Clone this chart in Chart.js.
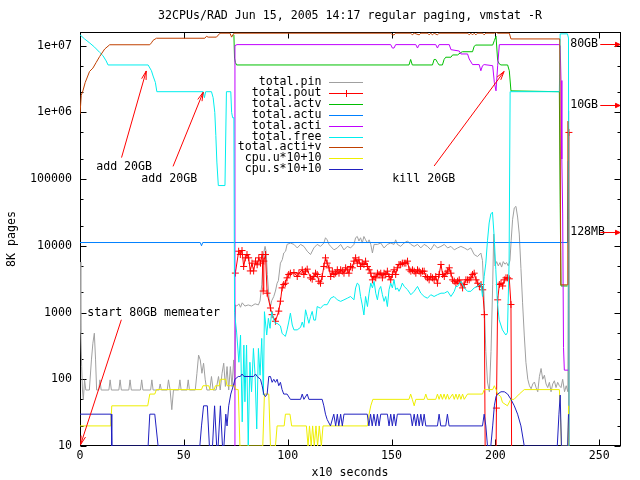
<!DOCTYPE html>
<html><head><meta charset="utf-8">
<script src="https://cdn.jsdelivr.net/npm/chart.js@4.4.0/dist/chart.umd.min.js"></script>
<style>html,body{margin:0;padding:0;background:#fff;}canvas{display:block;}</style>
</head><body>
<canvas id="c" width="640" height="480"></canvas>
<script>
const chartTitle = '32CPUs/RAD Jun 15, 2005 14:17 regular paging, vmstat -R';
const xTitle = 'x10 seconds';
const yTitle = '8K pages';
const xTickValues = [0, 50, 100, 150, 200, 250];
const yTickValues = [10, 100, 1000, 10000, 100000, 1000000, 10000000];
const yTickLabels = ['10', '100', '1000', '10000', '100000', '1e+06', '1e+07'];
const yMinorTicks = [20, 50, 200, 500, 2000, 5000, 20000, 50000, 200000, 500000, 2e6, 5e6];
const seriesNames = ['total.pin', 'total.pout', 'total.actv', 'total.actu', 'total.acti', 'total.free', 'total.acti+v', 'cpu.u*10+10', 'cpu.s*10+10'];
const seriesColors = ['#a0a0a0', '#ff0000', '#00c000', '#0080ff', '#c000ff', '#00eeee', '#c04000', '#eeee00', '#2020c0'];

const totalPin = [[0,5700],[0.4,500],[0.8,155],[1.2,69],[1.6,49],[2.2,98],[2.8,69],[4.5,69],[5.5,195],[6.2,347],[6.9,490],[7.5,195],[8,69],[9,69],[9.6,98],[10.2,69],[13.9,69],[14.5,98],[15.1,69],[18.7,69],[19.3,98],[19.9,69],[23.5,69],[24.1,98],[24.7,69],[29.1,69],[29.7,98],[30.3,69],[34,69],[34.6,98],[35.2,69],[38,69],[38.6,85],[39.2,69],[42,69],[42.6,98],[43.4,69],[44.2,35],[45,69],[47.5,69],[48.1,98],[48.7,69],[51.5,69],[52.1,98],[52.7,69],[55.5,69],[56.3,123],[57.1,230],[57.9,195],[58.7,123],[59.5,174],[60.3,98],[61.1,69],[62.5,69],[63.3,110],[64.1,69],[65.5,69],[66.7,110],[67.5,69],[68.4,123],[69.2,174],[70,78],[70.8,155],[71.6,69],[72.4,155],[73.2,78],[74,195],[74.6,69],[74.9,1300],[75.5,1250],[76.5,1350],[77.3,1200],[78.1,1400],[79.4,1250],[81,1300],[82.6,1250],[84.3,1350],[85.9,1300],[86.7,1500],[87.5,2600],[88.3,7400],[89.1,9800],[89.6,8300],[90.2,3700],[91,1640],[91.7,1230],[92.3,1500],[93.3,1740],[94.1,2100],[94.9,2750],[95.5,3000],[96.5,5500],[97.4,6200],[98.1,7800],[99,8300],[99.7,10500],[101.3,11000],[103,10500],[104.6,9300],[106.2,10500],[107.8,9800],[109.4,8300],[111,7400],[112.6,9300],[114.2,10500],[115.8,9800],[117.4,11000],[118.2,13200],[119,12300],[119.9,10500],[120.7,9800],[122.3,8700],[123.9,9300],[125.5,10500],[127.1,8700],[128.7,9800],[130.3,9300],[131.9,10500],[132.7,13200],[133.5,13800],[134.3,11800],[135.1,13200],[135.9,11000],[136.7,13800],[137.5,12300],[138.4,11000],[139.2,12300],[140,10500],[140.8,7800],[141.6,10500],[143.2,10500],[144.8,11000],[146.4,9300],[148,10500],[149.6,11000],[151.2,10500],[152,12300],[152.8,10500],[154.4,9800],[156,11000],[157.7,11800],[159.3,10500],[160.9,9800],[162.5,10500],[164.1,9300],[165.7,10500],[167.3,9800],[168.9,8700],[170.5,10500],[172.1,9300],[173.8,9800],[175.4,10500],[177,9300],[178.6,9800],[180.2,8700],[181.8,9300],[183.4,9800],[185,9300],[186.6,8700],[188.2,9300],[189.8,7400],[191.4,6900],[193,7800],[193.8,6000],[194.6,1500],[195.4,260],[196.2,91],[197.1,65],[197.9,260],[198.7,2600],[199.2,15000],[199.8,5000],[200.6,5800],[201.4,5000],[202.2,5600],[203,4800],[203.8,5800],[204.6,5300],[205.4,5600],[206.2,5000],[207,6000],[207.6,12000],[208.3,25000],[209.1,37000],[209.9,39000],[210.7,27000],[211.5,15000],[212.3,4600],[213.1,1400],[213.9,460],[214.7,180],[215.6,100],[216.4,80],[217.2,72],[218,85],[218.8,91],[219.6,75],[220.4,65],[221.2,110],[222,145],[222.8,100],[223.6,115],[224.4,85],[225.2,75],[226,90],[226.8,65],[227.6,85],[228.4,95],[229.2,75],[230,90],[230.8,80],[231.6,75],[232.4,100],[233.3,65],[234.1,80],[234.9,65],[235.3,1050000]];

const totalPout = [[74.8,3900],[76.4,8300],[77.2,7400],[78.0,8500],[78.8,4900],[79.6,6600],[80.4,7400],[81.2,6600],[82.0,4200],[82.8,5500],[83.6,4200],[84.5,5900],[85.3,5200],[86.1,6600],[86.9,5500],[87.7,7400],[88.2,2100],[88.5,5900],[89.3,7400],[90.1,1950],[91.7,1170],[92.5,930],[94.1,740],[95.7,1050],[96.5,1480],[97.3,2340],[98.1,2630],[98.9,2750],[99.7,3310],[100.5,3720],[101.3,3890],[103.0,3980],[104.6,3470],[105.4,3890],[107.0,4370],[107.8,3720],[108.6,4170],[109.4,4470],[111.0,3310],[111.8,3160],[112.6,3470],[113.4,3890],[114.2,3720],[115.0,2950],[115.8,2750],[116.6,3470],[117.4,4900],[118.2,6600],[119.0,5500],[119.9,4680],[120.7,3470],[121.5,4170],[122.3,3720],[123.1,3890],[123.9,4370],[124.7,3890],[125.5,4370],[126.3,4170],[127.1,3890],[127.9,4680],[128.7,4370],[129.5,3890],[130.3,4900],[131.1,4680],[131.9,5890],[132.7,6600],[133.5,5500],[134.3,6170],[135.1,4900],[135.9,5500],[136.7,5250],[137.5,5890],[138.4,4900],[139.2,4370],[140.0,3890],[140.8,3090],[141.6,3470],[142.4,3310],[143.2,3890],[144.0,3720],[144.8,3890],[145.6,3310],[146.4,3890],[147.2,3720],[148.0,4170],[148.8,3470],[149.6,3090],[150.4,3720],[151.2,4370],[152.0,3720],[152.8,4680],[153.6,5250],[154.4,5250],[155.2,5500],[156.1,5500],[156.9,5500],[157.7,5890],[158.5,4370],[159.3,4170],[160.1,4370],[160.9,4170],[161.7,3890],[162.5,4370],[163.3,4170],[164.1,3890],[164.9,4170],[165.7,4170],[166.5,3470],[167.3,3310],[168.1,3090],[168.9,3470],[169.7,3310],[170.5,3090],[171.3,3470],[172.1,2750],[172.9,3720],[173.8,5250],[174.6,3720],[175.4,3470],[176.2,3890],[177.0,4170],[177.8,4680],[178.6,3890],[179.4,3090],[180.2,2950],[181.0,2750],[181.8,2950],[182.6,3090],[183.4,2750],[184.2,2340],[185.0,2630],[185.8,3090],[186.6,3090],[187.4,3090],[188.2,3310],[189.0,3720],[189.8,3890],[190.7,3090],[191.5,2750],[192.3,2450],[193.1,2630],[193.9,2190],[194.7,930],[195.2,2],[200.2,2],[200.5,37],[201.1,1550],[201.9,2630],[202.7,2750],[203.5,2500],[204.3,3090],[205.1,3310],[205.9,3310],[206.7,3200],[207.5,1320],[207.9,2],[235.0,2],[235.4,500000]];

const totalActv = [[74.1,1.45e7],[74.4,6.5e6],[74.8,5.6e6],[75.4,5.13e6],[158.4,5.13e6],[159.2,6.2e6],[160,5.13e6],[169.7,5.13e6],[170.5,6.2e6],[171.3,6.2e6],[172.1,5.6e6],[172.9,5.13e6],[174.5,5.13e6],[175.3,6.2e6],[176.1,6.7e6],[178.6,6.7e6],[179.4,7.25e6],[181.8,7.25e6],[183.4,7.9e6],[184.2,8.1e6],[189,8.1e6],[189.8,9.8e6],[190.6,1.02e7],[198.7,1.02e7],[199.5,1.19e7],[200.3,1.38e7],[201.1,5.96e6],[201.9,5.3e6],[202.7,5.13e6],[205.9,5.13e6],[206.7,4.2e6],[207.5,2.1e6],[230.8,2.04e6],[231.2,42000],[231.6,2500],[234.7,2500]];

const totalActu = [[0,11200],[57.9,11200],[58.5,10000],[59.1,11200],[234.6,11200],[234.8,24600],[235.1,186000]];

const totalActi = [[74.5,2],[74.6,1.0e7],[75.6,1.035e7],[149.6,1.035e7],[150.4,9.2e6],[151.2,9.2e6],[152,1.035e7],[161.7,1.035e7],[162.5,9.2e6],[163.3,1.035e7],[171.3,1.035e7],[172.1,9.2e6],[172.9,1.035e7],[177.8,1.035e7],[178.6,8.7e6],[182.6,8.3e6],[183.4,7.5e6],[186.6,7.5e6],[187.4,6.3e6],[189,5.2e6],[192.2,5.2e6],[193,4.2e6],[193.8,5.0e6],[194.6,5.2e6],[198.7,5.0e6],[199.5,2.8e6],[200.3,2.1e6],[201.1,5.0e6],[201.9,1.035e7],[230.6,1.035e7],[231.2,1.0e7],[231.6,3e6],[232,2e5],[232.4,3e4],[232.8,300],[233.2,137],[235.2,137]];

const totalFree = [[0,1.45e7],[2.2,1.26e7],[4.6,1.1e7],[7,9.5e6],[9.5,7.9e6],[11,7.1e6],[12.6,5.9e6],[13.5,5.13e6],[32.8,5.13e6],[34.4,4.2e6],[35.2,3.5e6],[36.3,2.8e6],[37,2.04e6],[59.3,2.04e6],[59.9,1.66e6],[60.5,2.04e6],[63.3,2.04e6],[64.1,1.66e6],[64.9,1.0e6],[65.4,4.5e5],[65.9,1.8e5],[66.6,8.0e4],[69.8,8.0e4],[70.5,2.04e6],[72.6,2.04e6],[73,1.0e6],[73.5,8.3e5],[74.1,8.3e5],[74.4,1000],[75.4,510],[76.5,180],[77.3,460],[78.1,23],[78.9,325],[79.4,46],[80.2,325],[81,10],[81.8,180],[82.6,65],[83.5,290],[84.3,115],[85.1,18],[85.9,290],[86.7,115],[87.5,410],[88.3,58],[88.8,1030],[89.9,460],[90.7,820],[91.5,580],[92.3,1030],[93.3,775],[94.1,690],[94.9,690],[96.5,630],[97.3,490],[98.1,460],[98.9,440],[99.7,550],[100.5,720],[101.3,980],[102.2,650],[103,550],[104.6,550],[106.2,600],[107,720],[107.8,600],[108.6,1100],[109.4,870],[110.2,690],[111,870],[111.8,1040],[112.6,770],[113.4,770],[114.2,1230],[115.8,1160],[117.4,1310],[119,1310],[120.7,1640],[122.3,1740],[123.9,1550],[125.5,1470],[127.1,1550],[128.7,1640],[130.3,1740],[131.9,1550],[132.7,2340],[133.5,2760],[134.3,2610],[135.1,1740],[135.9,1300],[136.7,920],[137.5,1740],[138.4,1230],[139.2,1950],[140,2760],[140.8,2340],[141.6,2930],[142.4,1950],[143.2,1550],[144,2200],[144.8,2460],[145.6,1850],[146.4,1470],[147.2,1740],[148,1230],[148.8,2200],[149.6,2760],[150.4,2340],[151.2,3100],[152,2200],[152.8,2340],[153.6,2080],[154.4,2340],[155.2,2760],[156.1,2460],[157.7,2200],[159.3,1850],[160.9,2080],[162.5,2460],[164.1,1950],[165.7,1740],[167.3,1640],[168.9,1850],[170.5,1740],[172.1,1850],[173.8,1950],[175.4,1950],[177,2080],[178.6,1740],[180.2,2080],[181,2460],[181.8,2460],[183.4,2930],[185,2340],[186.6,2080],[188.2,2080],[189.8,2340],[191.4,2460],[193,2760],[193.8,1740],[194.6,3470],[195.4,5500],[196.2,12000],[197,22000],[197.8,30000],[198.6,32000],[199.4,14000],[200.2,4400],[201,1380],[201.8,780],[203.4,550],[205,460],[205.8,500],[206.6,5500],[207.1,2.04e6],[230.8,2.04e6],[231.2,1.5e7],[234.7,1.5e7],[235.2,1.3e7],[235.5,2]];

const totalActiV = [[0,9.4e5],[0.6,1.8e6],[1.4,2.1e6],[2.5,2.8e6],[4.6,4.1e6],[6.2,4.6e6],[7.8,5.6e6],[9.5,6.9e6],[11.9,8.9e6],[14.3,1.03e7],[33.6,1.03e7],[34.4,1.1e7],[35.2,1.2e7],[36.8,1.29e7],[60.1,1.29e7],[60.9,1.38e7],[61.7,1.34e7],[65.7,1.34e7],[67.4,1.535e7],[72.2,1.535e7],[73,1.34e7],[74.1,1.535e7],[149.6,1.535e7],[150.4,1.45e7],[151.2,1.45e7],[152,1.535e7],[159.2,1.535e7],[160,1.45e7],[160.9,1.535e7],[163.3,1.45e7],[164.1,1.535e7],[167.3,1.535e7],[168.1,1.45e7],[168.9,1.535e7],[169.7,1.45e7],[170.5,1.535e7],[172.1,1.45e7],[172.9,1.535e7],[186.6,1.535e7],[187.4,1.45e7],[188.2,1.535e7],[189,1.45e7],[189.8,1.535e7],[190.6,1.45e7],[191.4,1.535e7],[193.8,1.535e7],[194.6,1.45e7],[195.4,1.535e7],[199.5,1.535e7],[200.3,1.62e7],[201.1,1.535e7],[206.7,1.535e7],[207.5,1.26e7],[231,1.26e7],[231.5,2600],[234.7,2600],[234.9,740000]];

const cpuU = [[0,20],[14.8,20],[15.3,40],[32.6,40],[33.6,60],[36,60],[36.8,70],[58.5,70],[59.2,80],[62,80],[62.6,70],[64.6,70],[65.2,80],[67,80],[67.6,100],[70.2,100],[70.8,80],[74.4,80],[75.2,70],[76.2,70],[77,10],[88,10],[88.8,60],[90.9,60],[91.7,10],[94.1,10],[94.9,20],[98.3,20],[98.9,30],[101.1,30],[101.9,20],[109,20],[109.8,10],[110.5,20],[111.3,10],[112,20],[112.8,10],[113.6,20],[114.4,10],[115.2,20],[116.2,10],[117,20],[138.4,20],[139.2,30],[140,40],[141,50],[158.4,50],[159.2,60],[160,50],[160.9,40],[161.7,50],[165.7,50],[166.5,60],[167.3,50],[171.3,50],[172.1,60],[172.9,50],[173.7,60],[174.5,50],[175.3,60],[176.1,50],[176.9,60],[177.7,50],[179.4,60],[180.2,50],[181,60],[181.8,50],[182.6,60],[183.4,50],[184.2,60],[185,50],[186.6,60],[193.8,60],[194.6,70],[198.7,70],[199.5,80],[200.3,70],[201.1,60],[202.6,55],[203.4,45],[205.8,40],[207.4,50],[209,50],[211.5,60],[213.9,70],[230.8,70],[231.2,40],[231.8,10],[234.9,10],[235.3,40]];

const cpuS = [[0,30],[15,30],[15.3,10],[32.8,10],[33.6,30],[36,30],[37.6,10],[57.7,10],[58.5,20],[59.5,40],[61.3,40],[62.3,10],[63.8,10],[64.8,40],[65.8,10],[66.5,10],[67.6,40],[68.6,10],[69.3,10],[70.2,30],[70.8,20],[71.6,40],[72.6,60],[73.8,80],[74.6,100],[76.2,110],[77.2,110],[78,120],[79,110],[83.6,110],[84.5,120],[85.3,110],[86.9,100],[87.7,80],[88.5,60],[89.3,55],[90.1,60],[90.9,110],[91.7,110],[92.5,90],[93.3,100],[94.1,90],[94.9,100],[95.7,80],[96.5,90],[97.3,70],[98.1,60],[99.7,60],[101.3,50],[106.2,50],[107,60],[107.8,50],[109.4,60],[110.2,50],[116.6,50],[117.4,40],[118.2,30],[119,25],[120.6,20],[122.2,30],[123.1,20],[123.9,30],[124.6,20],[125.5,30],[126.3,20],[127.1,30],[138.3,30],[139.1,20],[139.9,30],[140.7,20],[141.5,30],[142.4,20],[143.2,30],[144,20],[144.8,30],[148,30],[148.8,20],[149.6,30],[150.4,20],[151.2,30],[152,20],[152.8,30],[159.2,30],[160,20],[160.9,30],[161.7,20],[162.5,30],[163.3,20],[164.1,30],[164.9,20],[165.7,30],[166.5,20],[172.1,20],[172.9,30],[173.7,20],[176.1,20],[176.9,30],[177.7,20],[193.8,20],[194.6,30],[195.4,20],[196.2,10],[197.8,10],[198.7,20],[199.5,40],[200.3,55],[201.1,60],[202.7,65],[204.3,65],[205.9,60],[207.5,50],[209.1,40],[210.7,30],[212.3,20],[213.9,10],[229.8,10],[230.6,30],[231.2,58],[231.8,10],[234.8,10],[235.2,30]];

// text labels and arrows (data coordinates)
const noteTexts = ['add 20GB', 'add 20GB', 'start 80GB memeater', 'kill 20GB', '80GB', '10GB', '128MB'];
const noteX = [7.8, 29.5, 3.5, 150.4, 236, 236, 236];
const noteY = [153000, 100000, 1000, 100000, 10485760, 1310720, 16384];
const arrowFromX = [20, 44.8, 19.9, 170.5, 250.5, 250.5, 250.5];
const arrowFromY = [210000, 155000, 780, 157000, 10485760, 1310720, 16384];
const arrowToX = [31.9, 59.3, 0.3, 204.2, 260, 260, 260];
const arrowToY = [4170000, 2000000, 10.5, 4100000, 10485760, 1310720, 16384];

const seriesData = [totalPin, totalPout, totalActv, totalActu, totalActi, totalFree, totalActiV, cpuU, cpuS];

const FAMILY = "'DejaVu Sans Mono', 'Liberation Mono', monospace";
const FSIZE = 11.6;
const FONT = FSIZE + 'px ' + FAMILY;

function drawArrow(ctx, x0, y0, x1, y1, len, ang, filled) {
  ctx.beginPath(); ctx.moveTo(x0, y0); ctx.lineTo(x1, y1); ctx.stroke();
  const a = Math.atan2(y1 - y0, x1 - x0);
  const p1x = x1 - len * Math.cos(a - ang), p1y = y1 - len * Math.sin(a - ang);
  const p2x = x1 - len * Math.cos(a + ang), p2y = y1 - len * Math.sin(a + ang);
  ctx.beginPath(); ctx.moveTo(p1x, p1y); ctx.lineTo(x1, y1); ctx.lineTo(p2x, p2y);
  if (filled) { ctx.closePath(); ctx.fill(); }
  ctx.stroke();
}

const decor = {
  id: 'decor',
  beforeDatasetsDraw(chart) {
    const ctx = chart.ctx, ca = chart.chartArea;
    const xs = chart.scales.x, ys = chart.scales.y;
    const L = Math.round(ca.left) + 0.5, R = Math.round(ca.right) + 0.5;
    const T = Math.round(ca.top) + 0.5, B = Math.round(ca.bottom) - 0.5;
    ctx.save();
    ctx.strokeStyle = '#000'; ctx.lineWidth = 1;
    ctx.strokeRect(L, T, R - L, B - T);
    ctx.beginPath();
    xTickValues.forEach(v => {
      const px = Math.round(xs.getPixelForValue(v)) + 0.5;
      ctx.moveTo(px, B); ctx.lineTo(px, B - 6);
      ctx.moveTo(px, T); ctx.lineTo(px, T + 6);
    });
    const tk = (v, len) => {
      const py = Math.round(ys.getPixelForValue(v)) + 0.5;
      ctx.moveTo(L, py); ctx.lineTo(L + len, py);
      ctx.moveTo(R, py); ctx.lineTo(R - len, py);
    };
    yTickValues.forEach(v => tk(v, 6));
    yMinorTicks.forEach(v => tk(v, 3));
    ctx.stroke();
    ctx.restore();
  },
  afterDraw(chart) {
    const ctx = chart.ctx, ca = chart.chartArea;
    const xs = chart.scales.x, ys = chart.scales.y;
    ctx.save();
    ctx.font = FONT; ctx.fillStyle = '#000'; ctx.textBaseline = 'middle';
    // title
    ctx.textAlign = 'center';
    ctx.fillText(chartTitle, (ca.left + ca.right) / 2, 16);
    ctx.fillText(xTitle, (ca.left + ca.right) / 2, 473);
    ctx.save();
    ctx.translate(12, (ca.top + ca.bottom) / 2);
    ctx.rotate(-Math.PI / 2);
    ctx.fillText(yTitle, 0, 0);
    ctx.restore();
    // legend
    const textRight = 321.5, l0 = 329, l1 = 363, top = 82, step = 10.9;
    seriesNames.forEach((name, i) => {
      const y = top + i * step;
      ctx.fillStyle = '#000'; ctx.textAlign = 'right';
      ctx.fillText(name, textRight, y);
      const ly = Math.round(y) + 0.5;
      ctx.strokeStyle = seriesColors[i]; ctx.lineWidth = 1;
      ctx.beginPath(); ctx.moveTo(l0, ly); ctx.lineTo(l1, ly);
      if (i === 1) {
        const cx = Math.round((l0 + l1) / 2) + 0.5;
        ctx.moveTo(cx, ly - 3.5); ctx.lineTo(cx, ly + 3.5);
      }
      ctx.stroke();
    });
    // notes
    ctx.fillStyle = '#000'; ctx.textAlign = 'left';
    noteTexts.forEach((t, i) => {
      ctx.fillText(t, xs.getPixelForValue(noteX[i]), ys.getPixelForValue(noteY[i]));
    });
    // arrows
    ctx.strokeStyle = '#ff0000'; ctx.fillStyle = '#ff0000'; ctx.lineWidth = 1;
    arrowFromX.forEach((fx, i) => {
      const x0 = xs.getPixelForValue(fx), y0 = ys.getPixelForValue(arrowFromY[i]);
      const x1 = xs.getPixelForValue(arrowToX[i]), y1 = ys.getPixelForValue(arrowToY[i]);
      if (i >= 4) {
        const yy = Math.round(y0) + 0.5;
        drawArrow(ctx, x0, yy, x1, yy, 5, 0.45, true);
      } else {
        drawArrow(ctx, x0, y0, x1, y1, 9, 0.26, false);
      }
    });
    ctx.restore();
  }
};

const datasets = seriesData.map((d, i) => ({
  label: seriesNames[i],
  data: d.map(p => ({ x: p[0], y: p[1] })),
  borderColor: seriesColors[i],
  backgroundColor: seriesColors[i],
  borderWidth: 1,
  pointRadius: i === 1 ? 3.5 : 0,
  pointStyle: 'cross',
  pointBorderWidth: 1,
  pointBorderColor: seriesColors[i],
  fill: false,
  tension: 0,
  order: seriesData.length - 1 - i
}));

new Chart(document.getElementById('c'), {
  type: 'line',
  data: { datasets },
  plugins: [decor],
  options: {
    responsive: false,
    animation: false,
    devicePixelRatio: 1,
    events: [],
    layout: { padding: { top: 32, right: 20, bottom: 0, left: 0 } },
    plugins: { legend: { display: false }, tooltip: { enabled: false }, title: { display: false } },
    scales: {
      x: {
        type: 'linear', min: 0, max: 260,
        grid: { display: false, drawTicks: false }, border: { display: false },
        ticks: { padding: 3, color: '#000', font: { family: FAMILY, size: FSIZE }, maxRotation: 0, autoSkip: false, callback: v => String(v) },
        afterBuildTicks: s => { s.ticks = xTickValues.map(v => ({ value: v })); },
        afterFit: s => { s.height = 34; s.paddingLeft = 0; s.paddingRight = 0; }
      },
      y: {
        type: 'logarithmic', min: 10, max: 16000000,
        grid: { display: false, drawTicks: false }, border: { display: false },
        ticks: { padding: 8, color: '#000', font: { family: FAMILY, size: FSIZE }, autoSkip: false,
          callback: v => { const k = yTickValues.indexOf(v); return k >= 0 ? yTickLabels[k] : ''; } },
        afterBuildTicks: s => { s.ticks = yTickValues.map(v => ({ value: v })); },
        afterFit: s => { s.width = 80; s.paddingTop = 0; s.paddingBottom = 0; }
      }
    }
  }
});
</script>
</body></html>
